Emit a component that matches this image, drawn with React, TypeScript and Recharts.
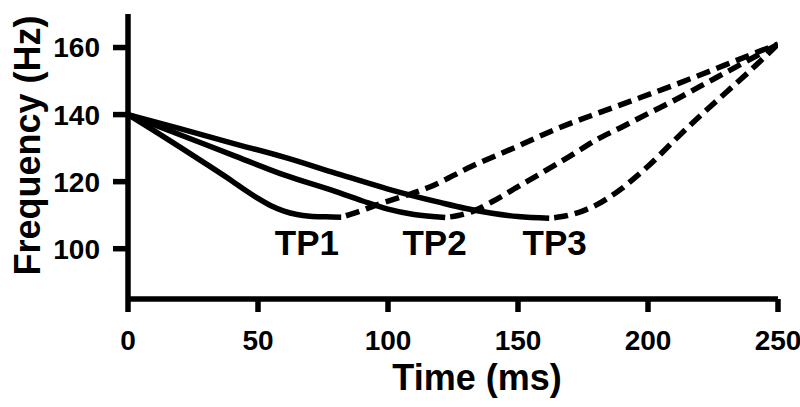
import React from 'react';
import { LineChart, Line, XAxis, YAxis, ReferenceDot, Label } from 'recharts';

const FONT = '"Liberation Sans", Arial, Helvetica, sans-serif';

const xTicks = [0, 50, 100, 150, 200, 250];
const yTicks = [100, 120, 140, 160];
const xDomain = [0, 250];
const yDomain = [85, 170];

const xTitle = 'Time (ms)';
const yTitle = 'Frequency (Hz)';

// TP1
const tp1SolidTime = [0, 10, 20, 30, 40, 45, 50, 55, 60, 65, 70, 76, 82];
const tp1SolidFreq = [140, 135.2, 130.3, 125.3, 120.2, 117.5, 115, 112.8, 111.2, 110.2, 109.7, 109.5, 109.4];
const tp1DashTime = [82, 87, 97, 105, 116, 132, 150, 165, 182, 194, 210, 220, 230, 240, 250];
const tp1DashFreq = [109.4, 110.6, 113.4, 115.4, 118.4, 124.5, 130.6, 135.8, 140.8, 144.2, 148.8, 151.8, 154.9, 158, 161];

// TP2
const tp2SolidTime = [0, 20, 40, 60, 80, 90, 100, 110, 122];
const tp2SolidFreq = [140, 134, 128, 122, 117, 114.3, 111.8, 110.2, 109.3];
const tp2DashTime = [122, 127, 133, 140, 150, 160, 170, 180, 190, 200, 210, 220, 230, 240, 250];
const tp2DashFreq = [109.3, 109.9, 111.3, 114, 118.5, 123, 127.6, 132.4, 136.3, 140.3, 144.2, 148.4, 152.6, 156.8, 161];

// TP3
const tp3SolidTime = [0, 20, 40, 60, 80, 100, 120, 130, 140, 150, 162];
const tp3SolidFreq = [140, 135.8, 131.5, 127.3, 122.5, 117.8, 113.8, 112, 110.6, 109.6, 109.1];
const tp3DashTime = [162, 167, 175, 180, 185, 190, 195, 200, 210, 220, 230, 240, 250];
const tp3DashFreq = [109.1, 109.6, 111.3, 113, 115.3, 118, 121.2, 124.6, 132.2, 139.6, 146.6, 153.6, 161];

const tpLabels = ['TP1', 'TP2', 'TP3'];
const tpLabelTime = [68.8, 117.9, 164.1];
const tpLabelFreq = 98.1;

const toPoints = (ts: number[], fs: number[]) => ts.map((t, i) => ({ t, f: fs[i] }));

const solidSeries = [
  toPoints(tp1SolidTime, tp1SolidFreq),
  toPoints(tp2SolidTime, tp2SolidFreq),
  toPoints(tp3SolidTime, tp3SolidFreq),
];
const dashSeries = [
  toPoints(tp1DashTime, tp1DashFreq),
  toPoints(tp2DashTime, tp2DashFreq),
  toPoints(tp3DashTime, tp3DashFreq),
];

const tickStyle = { fill: '#000', fontSize: 28, fontWeight: 700, fontFamily: FONT };
const axisLineStyle = { stroke: '#000', strokeWidth: 5.5 };

export default function App() {
  return (
    <div style={{ position: 'absolute', left: 0, top: 0, width: 800, height: 407, background: '#fff' }}>
      <LineChart width={800} height={407} margin={{ top: 14, right: 22, bottom: 0, left: 0 }}>
        <XAxis
          dataKey="t"
          type="number"
          domain={xDomain}
          ticks={xTicks}
          allowDataOverflow
          height={108}
          tick={tickStyle}
          tickSize={13}
          tickMargin={18}
          axisLine={axisLineStyle}
          tickLine={axisLineStyle}
        >
          <Label
            content={(props: any) => {
              const vb = props.viewBox || { x: 128, y: 299, width: 650, height: 108 };
              return (
                <text
                  x={vb.x + vb.width / 2 + 24}
                  y={390}
                  textAnchor="middle"
                  fill="#000"
                  fontSize={36}
                  fontWeight={700}
                  fontFamily={FONT}
                >
                  {xTitle}
                </text>
              );
            }}
          />
        </XAxis>
        <YAxis
          type="number"
          domain={yDomain}
          ticks={yTicks}
          allowDataOverflow
          width={128}
          tick={tickStyle}
          tickSize={15}
          tickMargin={13}
          axisLine={axisLineStyle}
          tickLine={axisLineStyle}
        >
          <Label
            content={(props: any) => {
              const vb = props.viewBox || { x: 0, y: 14, width: 128, height: 285 };
              const cy = vb.y + vb.height / 2 - 11;
              return (
                <text
                  x={40}
                  y={cy}
                  transform={`rotate(-90, 40, ${cy})`}
                  textAnchor="middle"
                  fill="#000"
                  fontSize={36}
                  fontWeight={700}
                  fontFamily={FONT}
                >
                  {yTitle}
                </text>
              );
            }}
          />
        </YAxis>
        {solidSeries.map((d, i) => (
          <Line
            key={`s${i}`}
            data={d}
            dataKey="f"
            type="monotone"
            stroke="#000"
            strokeWidth={5.5}
            dot={false}
            activeDot={false}
            isAnimationActive={false}
          />
        ))}
        {dashSeries.map((d, i) => (
          <Line
            key={`d${i}`}
            data={d}
            dataKey="f"
            type="monotone"
            stroke="#000"
            strokeWidth={5.5}
            strokeDasharray="14 7"
            strokeDashoffset={16}
            dot={false}
            activeDot={false}
            isAnimationActive={false}
          />
        ))}
        {tpLabels.map((lab, i) => (
          <ReferenceDot
            key={lab}
            x={tpLabelTime[i]}
            y={tpLabelFreq}
            r={0}
            fill="none"
            stroke="none"
            label={(props: any) => {
              const vb = props.viewBox || { x: 0, y: 0 };
              return (
                <text
                  x={vb.x + (vb.width || 0) / 2}
                  y={vb.y + (vb.height || 0) / 2}
                  textAnchor="middle"
                  fill="#000"
                  fontSize={35}
                  fontWeight={700}
                  fontFamily={FONT}
                >
                  {lab}
                </text>
              );
            }}
          />
        ))}
      </LineChart>
    </div>
  );
}
